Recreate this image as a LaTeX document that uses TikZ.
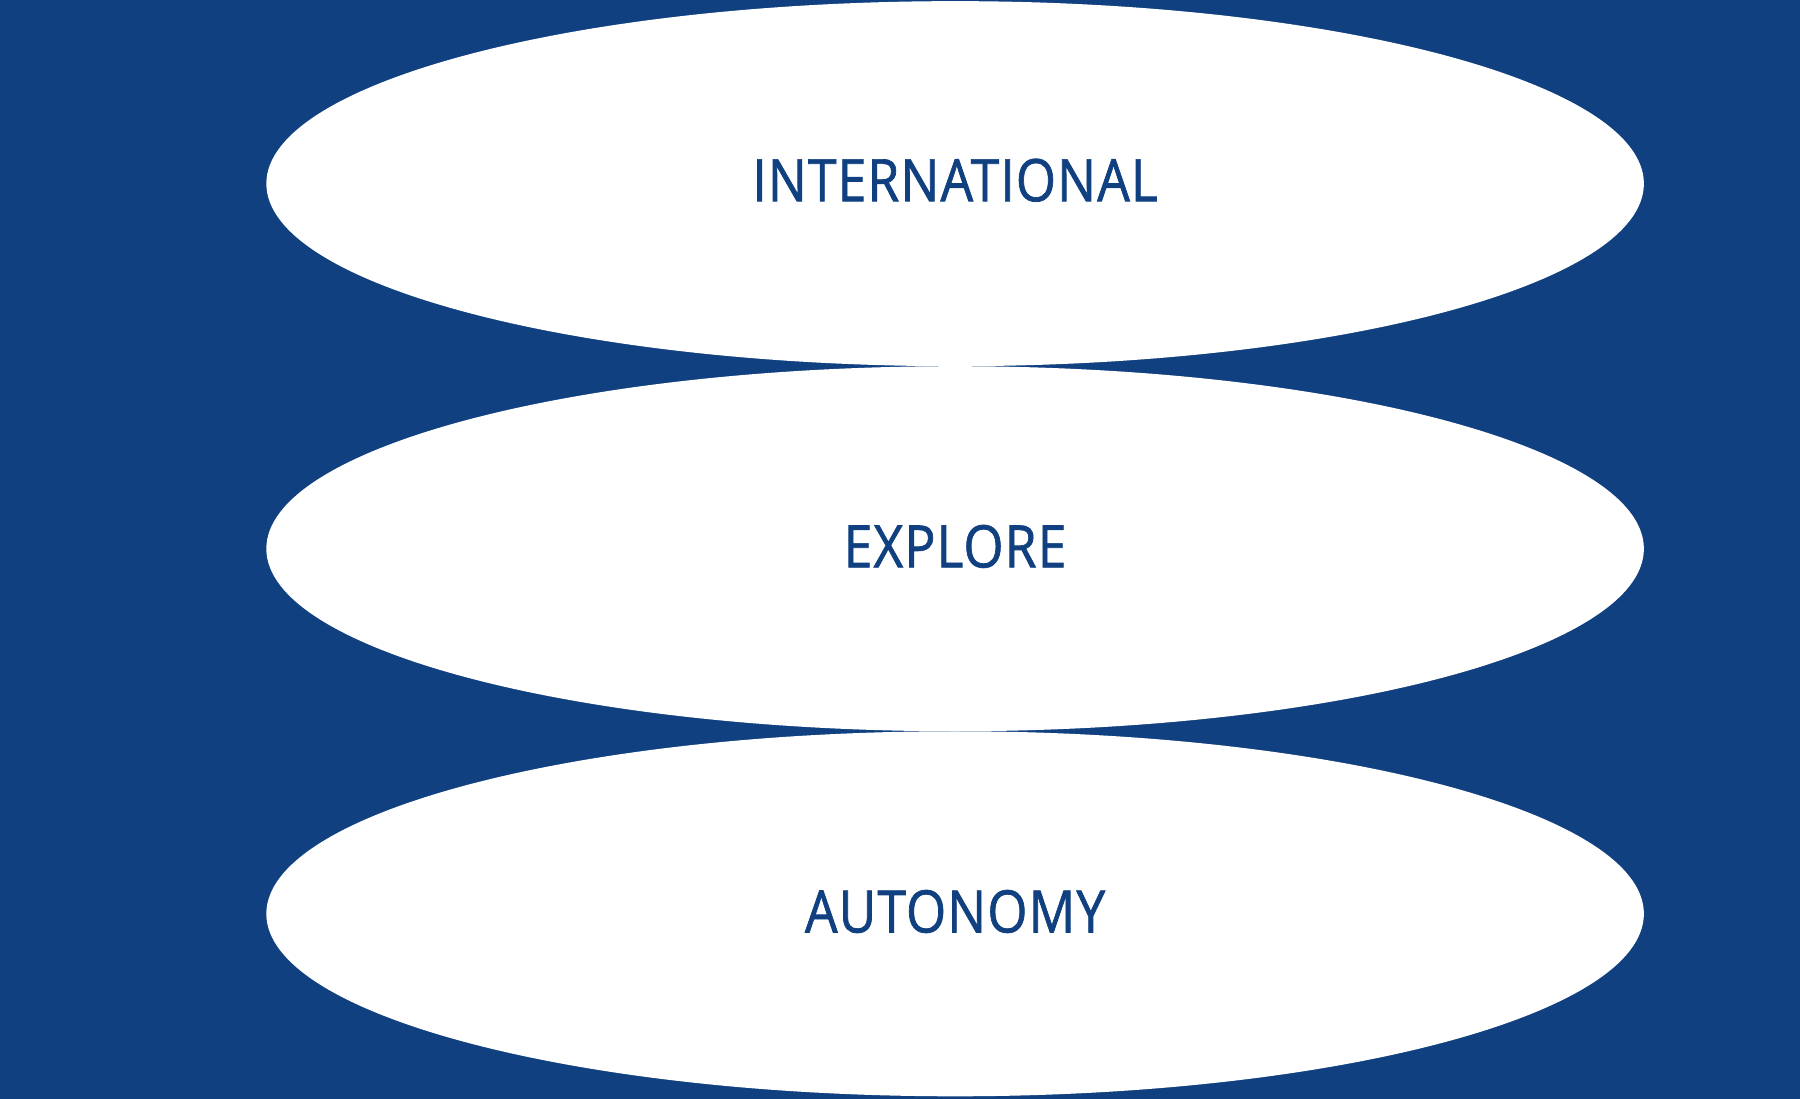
\documentclass[tikz,border=0pt]{standalone}
\usepackage{fontspec}
\setmainfont{Open Sans}[FakeStretch=0.88,FakeBold=1.2,LetterSpace=2]
\definecolor{navy}{RGB}{16,64,128}
\begin{document}
\begin{tikzpicture}[x=1pt,y=-1pt,
  lbl/.style={text=navy, font=\fontsize{51}{60}\selectfont, inner sep=0pt, anchor=center}]
\fill[navy] (0,0) rectangle (1568,957);
\useasboundingbox (0,0) rectangle (1568,957);
\fill[white] (832,160) ellipse [x radius=600, y radius=159];
\fill[white] (832,478) ellipse [x radius=600, y radius=159];
\fill[white] (832,796) ellipse [x radius=600, y radius=159];
\node[lbl] (t1) at (832,157) {INTERNATIONAL};
\node[lbl] (t2) at (832,476) {EXPLORE};
\node[lbl] (t3) at (832,794) {AUTONOMY};
\end{tikzpicture}
\end{document}
